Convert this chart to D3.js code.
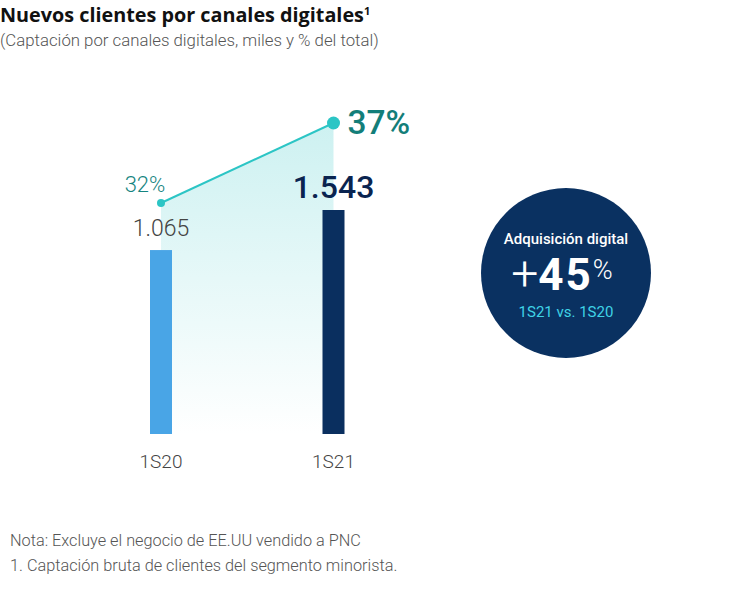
<!DOCTYPE html>
<html><head><meta charset="utf-8">
<script src="https://cdn.jsdelivr.net/npm/d3@7"></script>
<style>
body{margin:0;background:#fff;}
svg{display:block;font-family:Roboto,"Liberation Sans",sans-serif;}
</style></head>
<body><svg id="c" width="730" height="595"></svg>
<script>
const categories = ["1S20", "1S21"];
const clientes = [1065, 1543];
const clientesLabels = ["1.065", "1.543"];
const pctDigital = [32, 37];
const pctLabels = ["32%", "37%"];

const svg = d3.select("#c");

// title
const t = svg.append("text").attr("x", 0).attr("y", 22)
  .attr("font-family", "'Open Sans', Roboto, sans-serif")
  .attr("font-size", 19.8).attr("font-weight", 700).attr("fill", "#111");
t.append("tspan").text("Nuevos clientes por canales digitales");
t.append("tspan").attr("font-size", 11).attr("dy", -7).text("1");
svg.append("text").attr("x", 0).attr("y", 46).attr("font-size", 16.8).attr("font-weight", 300)
  .attr("fill", "#555").text("(Captación por canales digitales, miles y % del total)");

const x = d3.scalePoint().domain(categories).range([161, 333.5]);
const barW = 22;
const y = d3.scaleLinear().domain([-1130, 1543]).range([434, 210]);
const y2 = d3.scaleLinear().domain([32, 37]).range([203, 123]);
const colors = ["#49a5e6", "#0a2f5f"];

// gradient area
const defs = svg.append("defs");
const g = defs.append("linearGradient").attr("id", "ag").attr("gradientUnits", "userSpaceOnUse")
  .attr("x1", 0).attr("y1", 123).attr("x2", 0).attr("y2", 434);
g.append("stop").attr("offset", "0%").attr("stop-color", "#cdf1f1");
g.append("stop").attr("offset", "100%").attr("stop-color", "#ffffff");
const pts = categories.map((c, i) => ({ c, v: pctDigital[i] }));
const area = d3.area().x(d => x(d.c)).y0(434).y1(d => y2(d.v));
svg.append("path").datum(pts).attr("d", area).attr("fill", "url(#ag)");

// bars
svg.selectAll("rect.bar").data(clientes).join("rect")
  .attr("x", (d, i) => x(categories[i]) - barW / 2)
  .attr("y", d => y(d)).attr("width", barW).attr("height", d => 434 - y(d))
  .attr("fill", (d, i) => colors[i]);

// line
svg.append("path").datum(pts).attr("d", d3.line().x(d => x(d.c)).y(d => y2(d.v)))
  .attr("fill", "none").attr("stroke", "#2cc5c5").attr("stroke-width", 2);
svg.selectAll("circle.pt").data(pts).join("circle")
  .attr("cx", d => x(d.c)).attr("cy", d => y2(d.v)).attr("r", (d, i) => i === 0 ? 4 : 6.5)
  .attr("fill", "#2cc5c5");

// pct labels
svg.append("text").attr("x", x(categories[0]) - 16).attr("y", y2(pctDigital[0]) - 11)
  .attr("text-anchor", "middle").attr("font-size", 22).attr("font-weight", 300).attr("fill", "#15847f").text(pctLabels[0]);
svg.append("text").attr("x", x(categories[1]) + 14).attr("y", y2(pctDigital[1]) + 11)
  .attr("font-size", 33.5).attr("font-weight", 500).attr("fill", "#137e79").text(pctLabels[1]);

// value labels
svg.append("text").attr("x", x(categories[0])).attr("y", y(clientes[0]) - 14)
  .attr("text-anchor", "middle").attr("font-size", 23).attr("font-weight", 300).attr("fill", "#444").text(clientesLabels[0]);
svg.append("text").attr("x", x(categories[1])).attr("y", y(clientes[1]) - 12)
  .attr("text-anchor", "middle").attr("font-size", 32).attr("font-weight", 500).attr("fill", "#0a2450").text(clientesLabels[1]);

// category labels
svg.selectAll("text.cat").data(categories).join("text")
  .attr("x", d => x(d)).attr("y", 468).attr("text-anchor", "middle")
  .attr("font-size", 19).attr("font-weight", 300).attr("fill", "#444").text(d => d);

// circle callout
const cx = 566, cy = 273;
svg.append("circle").attr("cx", cx).attr("cy", cy).attr("r", 85).attr("fill", "#0a3161");
svg.append("text").attr("x", cx).attr("y", 244).attr("text-anchor", "middle")
  .attr("font-size", 15).attr("font-weight", 500).attr("fill", "#fff").text("Adquisición digital");
const big = svg.append("text").attr("x", cx - 4).attr("y", 290).attr("text-anchor", "middle").attr("fill", "#fff");
big.append("tspan").attr("font-size", 48).attr("font-weight", 300).text("+");
big.append("tspan").attr("font-size", 44).attr("font-weight", 700).attr("letter-spacing", 2).text("45");
big.append("tspan").attr("font-size", 27).attr("font-weight", 300).attr("dy", -11).text("%");
svg.append("text").attr("x", cx).attr("y", 317).attr("text-anchor", "middle")
  .attr("font-size", 15).attr("font-weight", 400).attr("fill", "#3fd3e6").text("1S21 vs. 1S20");

// notes
svg.append("text").attr("x", 10).attr("y", 546).attr("font-size", 16.3).attr("font-weight", 300)
  .attr("fill", "#555").text("Nota: Excluye el negocio de EE.UU vendido a PNC");
svg.append("text").attr("x", 10).attr("y", 571).attr("font-size", 16.3).attr("font-weight", 300)
  .attr("fill", "#555").text("1. Captación bruta de clientes del segmento minorista.");
</script></body></html>
